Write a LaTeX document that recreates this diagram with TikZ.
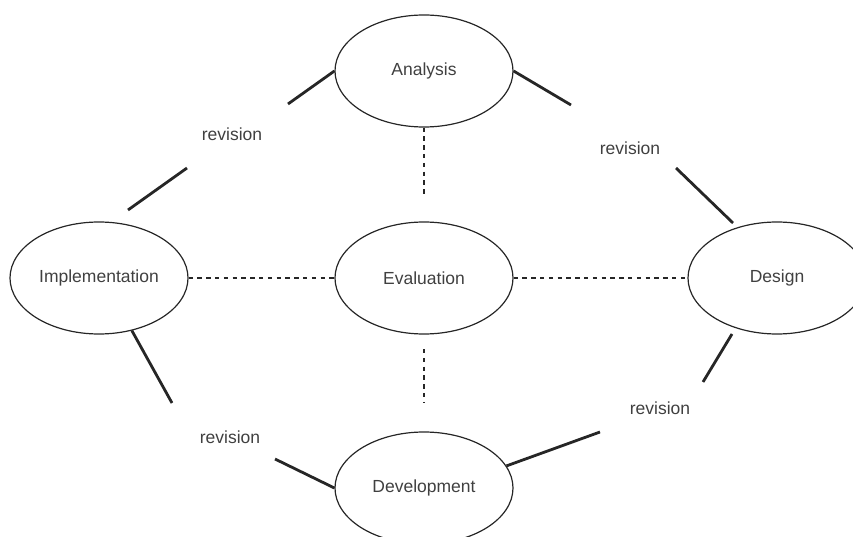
\documentclass[tikz,border=0pt]{standalone}
\usepackage{fontspec}
\setmainfont{Liberation Sans}
\usetikzlibrary{positioning}
\usetikzlibrary{shapes.geometric}
\tikzset{node distance=2.5cm, on grid,
    phase/.style={
        ellipse,
        draw=black!85,
        line width=1.2pt,
        minimum width=178pt,
        minimum height=112pt,
        inner sep=0pt,
        text=black!75,
        font=\fontsize{17.5}{20}\selectfont},
    revlabel/.style={
        inner sep=0pt,
        text=black!75,
        font=\fontsize{17.5}{20}\selectfont},
    revline/.style={
        draw=black!85,
        line width=2.8pt},
    link/.style={
        draw=black!85,
        line width=1.2pt,
        dash pattern=on 4.4pt off 4.4pt}}

\begin{document}
\begin{tikzpicture}[x=1pt,y=1pt]
        \useasboundingbox (0,0) rectangle (853,536);
        \clip (0,0) rectangle (853,536);

        \node[phase] (eval) at (424,258) {Evaluation};
        \node[phase,above=207pt of eval] (ana) {Analysis};
        \node[phase,left=325pt of eval] (impl) {Implementation};
        \node[phase,right=353pt of eval] (des) {Design};
        \node[phase,below=210pt of eval] (dev) {Development};

        \node[revlabel] (rev1) at (232,402) {revision};
        \node[revlabel] (rev2) at (630,388) {revision};
        \node[revlabel] (rev3) at (230,99) {revision};
        \node[revlabel] (rev4) at (660,128) {revision};

        \coordinate (a1) at (288,432);
        \coordinate (a2) at (187,368);
        \coordinate (a3) at (128,326);
        \coordinate (b1) at (571,431);
        \coordinate (b2) at (676,368);
        \coordinate (b3) at (733,313);
        \coordinate (c1) at (172,133);
        \coordinate (c2) at (275,77);
        \coordinate (d1) at (600,104);
        \coordinate (d2) at (703,154);
        \coordinate (d3) at (732,202);
        \coordinate (e1) at (424,339);
        \coordinate (e2) at (424,187);
        \coordinate (e3) at (424,133);

        \draw[revline] (ana.west) -- (a1);
        \draw[revline] (a2) -- (a3);
        \draw[revline] (ana.east) -- (b1);
        \draw[revline] (b2) -- (b3);
        \draw[revline] (impl.-58) -- (c1);
        \draw[revline] (c2) -- (dev.west);
        \draw[revline] (dev.15) -- (d1);
        \draw[revline] (d2) -- (d3);

        \draw[link] (ana.south) -- (e1);
        \draw[link] (e2) -- (e3);
        \draw[link] (impl.east) -- (eval.west);
        \draw[link] (eval.east) -- (des.west);
    \end{tikzpicture}
\end{document}
